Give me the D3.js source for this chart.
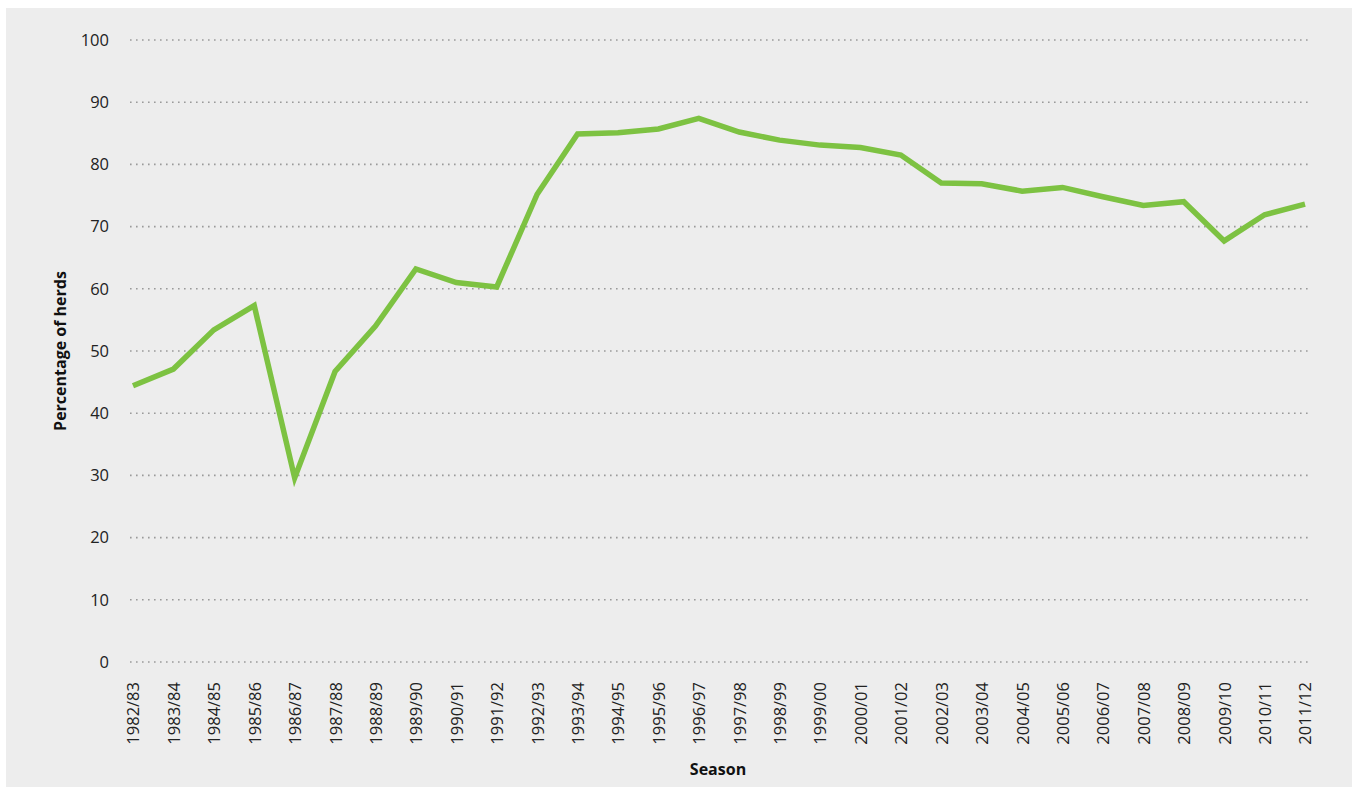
<!DOCTYPE html>
<html>
<head>
<meta charset="utf-8">
<script src="https://cdn.jsdelivr.net/npm/d3@7"></script>
<style>
  body { margin: 0; background: #fff; }
  svg { display: block; font-family: "Open Sans", "Noto Sans", sans-serif; }
</style>
</head>
<body>
<svg width="1352" height="789"></svg>
<script>
// seasons along the x axis
const seasons = ['1982/83', '1983/84', '1984/85', '1985/86', '1986/87', '1987/88', '1988/89', '1989/90',
  '1990/91', '1991/92', '1992/93', '1993/94', '1994/95', '1995/96', '1996/97', '1997/98', '1998/99',
  '1999/00', '2000/01', '2001/02', '2002/03', '2003/04', '2004/05', '2005/06', '2006/07', '2007/08',
  '2008/09', '2009/10', '2010/11', '2011/12'];

// percentage of herds
const herds = [44.4, 47.1, 53.4, 57.3, 29.6, 46.7, 54.0, 63.2, 61.0, 60.3,
  75.2, 84.9, 85.1, 85.7, 87.4, 85.2, 83.9, 83.1, 82.7, 81.5,
  77.0, 76.9, 75.7, 76.3, 74.8, 73.4, 74.0, 67.7, 71.9, 73.6];

const yTicks = [0, 10, 20, 30, 40, 50, 60, 70, 80, 90, 100];

const svg = d3.select('svg');
const width = +svg.attr('width');
const height = +svg.attr('height');

// fundo cinza
svg.append('rect')
  .attr('x', 6).attr('y', 8)
  .attr('width', width - 6).attr('height', height - 10)
  .attr('fill', '#ededed');

const x = d3.scalePoint()
  .domain(seasons)
  .range([133, 1305]);

const y = d3.scaleLinear()
  .domain([0, 100])
  .range([662, 40]);

const gridLeft = 130, gridRight = 1310;

// --- eixo Y com grade pontilhada ---
const yAxis = svg.append('g')
  .attr('transform', `translate(${gridLeft},0)`)
  .call(d3.axisLeft(y).tickValues(yTicks).tickSize(0).tickPadding(21))
  .attr('font-family', null);

yAxis.select('.domain').remove();
yAxis.selectAll('text')
  .attr('fill', '#222')
  .style('font-size', '16.5px');

svg.append('g')
  .selectAll('line')
  .data(yTicks)
  .join('line')
    .attr('x1', gridLeft)
    .attr('x2', gridRight)
    .attr('y1', d => y(d))
    .attr('y2', d => y(d))
    .attr('stroke', '#9a9a9a')
    .attr('stroke-width', 1.6)
    .attr('stroke-dasharray', '1.6,4.4');

// --- eixo X, rótulos girados ---
const xAxis = svg.append('g')
  .attr('transform', `translate(0,${y(0)})`)
  .call(d3.axisBottom(x).tickSize(0).tickPadding(0))
  .attr('font-family', null);

xAxis.select('.domain').remove();
xAxis.selectAll('text')
  .attr('fill', '#222')
  .style('font-size', '16.5px')
  .attr('transform', 'rotate(-90)')
  .attr('x', -20)
  .attr('y', 0)
  .attr('dy', '0.36em')
  .style('text-anchor', 'end');

// --- linha ---
const line = d3.line()
  .x((d, i) => x(seasons[i]))
  .y(d => y(d));

svg.append('path')
  .datum(herds)
  .attr('fill', 'none')
  .attr('stroke', '#7dc242')
  .attr('stroke-width', 5.5)
  .attr('stroke-linejoin', 'miter')
  .attr('d', line);

// --- títulos dos eixos ---
svg.append('text')
  .attr('transform', `translate(66,${y(50)}) rotate(-90)`)
  .attr('text-anchor', 'middle')
  .style('font-size', '16px')
  .style('font-weight', 'bold')
  .attr('fill', '#111')
  .text('Percentage of herds');

svg.append('text')
  .attr('x', 718)
  .attr('y', 775)
  .attr('text-anchor', 'middle')
  .style('font-size', '16px')
  .style('font-weight', 'bold')
  .attr('fill', '#111')
  .text('Season');
</script>
</body>
</html>
